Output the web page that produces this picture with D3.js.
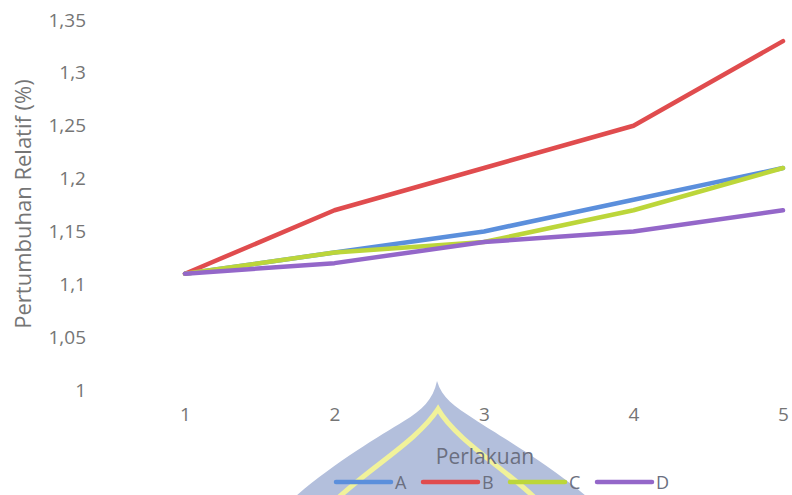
<!DOCTYPE html>
<html>
<head>
<meta charset="utf-8">
<script src="https://cdn.jsdelivr.net/npm/d3@7"></script>
<style>
  html, body { margin: 0; padding: 0; background: #fff; }
  svg { display: block; }
  text { font-family: "Open Sans", sans-serif; }
</style>
</head>
<body>
<svg id="chart" width="792" height="495"></svg>
<script>
// Relative growth per treatment (Perlakuan) over five observations
const perlakuan = [1, 2, 3, 4, 5];
const seriesNames = ["A", "B", "C", "D"];
const valuesA = [1.11, 1.13, 1.15, 1.18, 1.21];
const valuesB = [1.11, 1.17, 1.21, 1.25, 1.33];
const valuesC = [1.11, 1.13, 1.14, 1.17, 1.21];
const valuesD = [1.11, 1.12, 1.14, 1.15, 1.17];
const yTicks = [1, 1.05, 1.1, 1.15, 1.2, 1.25, 1.3, 1.35];
const colors = ["#5b8fdc", "#e04c4e", "#bcd63a", "#9467c9"];

const series = [valuesA, valuesB, valuesC, valuesD].map((vals, i) => ({
  name: seriesNames[i],
  color: colors[i],
  points: vals.map((v, j) => ({ x: perlakuan[j], y: v }))
}));

const svg = d3.select("#chart");

// Faint logo watermark behind the lower part of the chart
const mark = svg.append("g").attr("class", "watermark");
mark.append("path")
  .attr("d", "M437,381 C433,400 422,410 404,421 C380,436 335,462 296,496 L586,496 C548,464 500,436 474,419 C454,406 442,398 437,381 Z")
  .attr("fill", "#b3bfdc");
mark.append("path")
  .attr("d", "M338,498 C372,466 418,440 438,409 C456,440 504,468 535,498")
  .attr("fill", "none")
  .attr("stroke", "#f1f29a")
  .attr("stroke-width", 5);

const x = d3.scaleLinear().domain([1, 5]).range([185, 783]);
const y = d3.scaleLinear().domain([1, 1.35]).range([390, 20]);

const fmt = v => d3.format(".2~f")(v).replace(".", ",");

// Y axis labels (no axis line)
const yAxis = d3.axisLeft(y).tickValues(yTicks).tickFormat(fmt).tickSize(0).tickPadding(0);
const yG = svg.append("g").attr("transform", "translate(86,0)").call(yAxis);
yG.select(".domain").remove();
yG.selectAll("text")
  .attr("fill", "#757575")
  .style("font-size", "19px")
  .style("font-family", "'Open Sans', sans-serif");

// X axis labels
const xAxis = d3.axisBottom(x).tickValues(perlakuan).tickFormat(d3.format("d")).tickSize(0).tickPadding(0);
const xG = svg.append("g").attr("transform", "translate(0,407)").call(xAxis);
xG.select(".domain").remove();
xG.selectAll("text")
  .attr("fill", "#757575")
  .style("font-size", "19px")
  .style("font-family", "'Open Sans', sans-serif");

// Axis titles
svg.append("text")
  .attr("transform", "translate(31,204) rotate(-90)")
  .attr("text-anchor", "middle")
  .attr("fill", "#757575")
  .style("font-size", "22px")
  .text("Pertumbuhan Relatif (%)");

svg.append("text")
  .attr("x", 485).attr("y", 464)
  .attr("text-anchor", "middle")
  .attr("fill", "#6b6f80")
  .style("font-size", "21px")
  .text("Perlakuan");

// Series lines
const line = d3.line().x(d => x(d.x)).y(d => y(d.y));
svg.append("g").selectAll("path")
  .data(series)
  .join("path")
  .attr("d", d => line(d.points))
  .attr("fill", "none")
  .attr("stroke", d => d.color)
  .attr("stroke-width", 4.5)
  .attr("stroke-linejoin", "round")
  .attr("stroke-linecap", "round");

// Legend
const legendX = d3.scalePoint().domain(seriesNames).range([336, 597]);
const lg = svg.append("g").selectAll("g")
  .data(series)
  .join("g")
  .attr("transform", d => `translate(${legendX(d.name)},482)`);
lg.append("line")
  .attr("x1", 0).attr("x2", 55)
  .attr("stroke", d => d.color)
  .attr("stroke-width", 4.5)
  .attr("stroke-linecap", "round");
lg.append("text")
  .attr("x", 59).attr("y", 6.5)
  .attr("fill", "#6b6f80")
  .style("font-size", "18px")
  .text(d => d.name);
</script>
</body>
</html>
